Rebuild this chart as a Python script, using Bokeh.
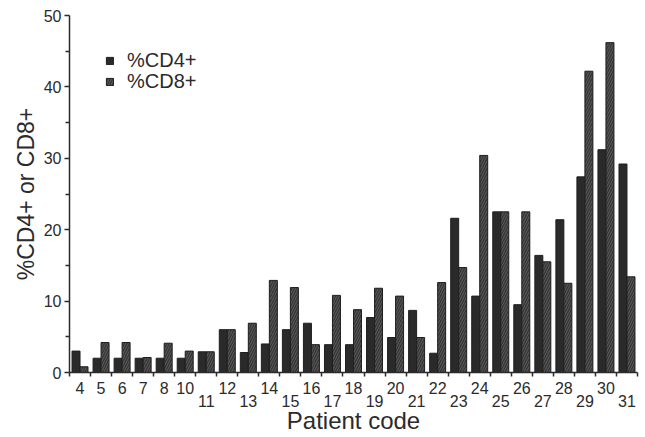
from bokeh.plotting import figure
from bokeh.models import (ColumnDataSource, Range1d, FixedTicker, LinearAxis,
                          Legend, LegendItem)
from bokeh.transform import dodge
from bokeh.embed import file_html
from bokeh.resources import INLINE

patients = ["4", "5", "6", "7", "8", "10", "11", "12", "13", "14", "15", "16",
            "17", "18", "19", "20", "21", "22", "23", "24", "25", "26", "27",
            "28", "29", "30", "31"]
cd4 = [3.0, 2.0, 2.0, 2.0, 2.0, 2.0, 2.9, 6.0, 2.8, 4.0, 6.0, 6.9, 3.9, 3.9,
       7.7, 4.9, 8.7, 2.7, 21.6, 10.7, 22.5, 9.5, 16.4, 21.4, 27.4, 31.2, 29.2]
cd8 = [0.8, 4.2, 4.2, 2.1, 4.1, 3.0, 2.9, 6.0, 6.9, 12.9, 11.9, 3.9, 10.8, 8.8,
       11.8, 10.7, 4.9, 12.6, 14.7, 30.4, 22.5, 22.5, 15.5, 12.5, 42.2, 46.2, 13.4]
y_ticks = [0, 10, 20, 30, 40, 50]
y_minor = [5, 15, 25, 35, 45]
series_names = ["%CD4+", "%CD8+"]
x_title = "Patient code"
y_title = "%CD4+ or CD8+"

FONT = "Liberation Sans"
INK = "#2b2b2b"

n = len(patients)
idx = list(range(n))
src = ColumnDataSource(dict(x=idx, cd4=cd4, cd8=cd8, pat=patients))

p = figure(width=645, height=437, output_backend="svg", toolbar_location=None,
           x_range=Range1d(-0.5, n - 0.5), y_range=Range1d(0, 50),
           min_border_left=69, min_border_right=8, min_border_top=15,
           min_border_bottom=65)
p.outline_line_color = None
p.grid.visible = False
p.background_fill_color = "white"
p.border_fill_color = "white"

r4 = p.vbar(x=dodge("x", -0.19, range=p.x_range), top="cd4", width=0.38,
            source=src, fill_color="#2a2a2a", line_color="#1f1f1f", line_width=1)
r8 = p.vbar(x=dodge("x", 0.19, range=p.x_range), top="cd8", width=0.38,
            source=src, fill_color="#363636", line_color="#1f1f1f", line_width=1,
            hatch_pattern="/", hatch_color="#666666", hatch_scale=5,
            hatch_weight=0.8)

# lower-row patients (odd codes from 11 on) go on a second label line
lower = [i for i, c in enumerate(patients) if int(c) >= 11 and int(c) % 2 == 1]
upper = [i for i in idx if i not in lower]

xa = p.xaxis[0]
xa.ticker = FixedTicker(ticks=upper, minor_ticks=[i - 0.5 for i in range(n + 1)])
xa.major_label_overrides = {i: patients[i] for i in upper}
xa.major_tick_out = 0
xa.major_tick_in = 0
xa.minor_tick_out = 4
xa.minor_tick_in = 0
xa.axis_line_width = 1.5
xa.axis_line_color = INK
xa.minor_tick_line_color = INK
xa.minor_tick_line_width = 1.5
xa.major_label_standoff = 5
xa.major_label_text_font = FONT
xa.major_label_text_font_size = "16px"
xa.major_label_text_color = INK

xb = LinearAxis(ticker=FixedTicker(ticks=lower),
                major_label_overrides={i: patients[i] for i in lower},
                axis_line_color=None, major_tick_line_color=None,
                minor_tick_line_color=None, major_tick_out=0, major_tick_in=0,
                minor_tick_out=0, minor_tick_in=0,
                major_label_standoff=-2,
                major_label_text_font=FONT, major_label_text_font_size="16px",
                major_label_text_color=INK,
                axis_label=x_title, axis_label_standoff=-3,
                axis_label_text_font=FONT, axis_label_text_font_size="24px",
                axis_label_text_font_style="normal", axis_label_text_color=INK)
p.add_layout(xb, "below")

ya = p.yaxis[0]
ya.ticker = FixedTicker(ticks=y_ticks, minor_ticks=y_minor)
ya.major_tick_out = 5
ya.major_tick_in = 0
ya.minor_tick_out = 4
ya.minor_tick_in = 0
ya.axis_line_width = 1.5
ya.axis_line_color = INK
ya.major_tick_line_color = INK
ya.major_tick_line_width = 1.5
ya.minor_tick_line_color = INK
ya.minor_tick_line_width = 1.5
ya.major_label_standoff = 3
ya.major_label_text_font = FONT
ya.major_label_text_font_size = "16px"
ya.major_label_text_color = INK
ya.axis_label = y_title
ya.axis_label_standoff = 2
ya.axis_label_text_font = FONT
ya.axis_label_text_font_size = "23px"
ya.axis_label_text_font_style = "normal"
ya.axis_label_text_color = INK

legend_style = dict(glyph_width=9, glyph_height=9, label_standoff=13,
                    padding=0, margin=0, border_line_color=None,
                    background_fill_alpha=0, label_text_font=FONT,
                    label_text_font_size="20px", label_text_color=INK)
leg1 = Legend(items=[LegendItem(label=series_names[0], renderers=[r4])],
              location=(36, 300), **legend_style)
leg2 = Legend(items=[LegendItem(label=series_names[1], renderers=[r8])],
              location=(36, 279), **legend_style)
p.add_layout(leg1, "center")
p.add_layout(leg2, "center")

open("out.html", "w").write(file_html(p, INLINE))
